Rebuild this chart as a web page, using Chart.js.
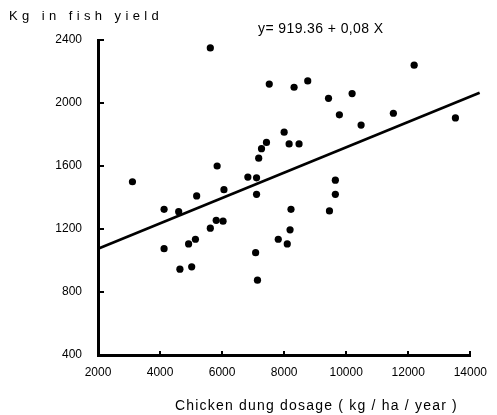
<!DOCTYPE html>
<html>
<head>
<meta charset="utf-8">
<script src="https://cdn.jsdelivr.net/npm/chart.js@4/dist/chart.umd.min.js"></script>
<style>
  html, body { margin: 0; padding: 0; background: #fff; }
  #wrap { position: relative; width: 497px; height: 415px; overflow: hidden; }
  canvas { position: absolute; left: 0; top: 0; }
  .txt { position: absolute; font-family: "Liberation Sans", Arial, sans-serif; color: #000; white-space: nowrap; line-height: 1; }
</style>
</head>
<body>
<div id="wrap">
  <canvas id="c" width="497" height="415"></canvas>
  <div class="txt" id="ytitle" style="left:9px; top:9px; font-size:13px; letter-spacing:4.4px;">Kg in fish yield</div>
  <div class="txt" id="eq" style="left:258px; top:21px; font-size:14px; letter-spacing:0.4px;">y= 919.36 + 0,08 X</div>
  <div class="txt" id="xtitle" style="left:175px; top:398px; font-size:14px; letter-spacing:1.2px;">Chicken dung dosage ( kg / ha / year )</div>
</div>
<script>
// ---- data ----
const xTicks = [2000, 4000, 6000, 8000, 10000, 12000, 14000];
const yTicks = [400, 800, 1200, 1600, 2000, 2400];

// chicken dung dosage (kg/ha/year)
const dosage = [5620, 7520, 8320, 8760, 9430, 10190, 9780, 12190, 11520, 10480,
                13520, 8000, 7430, 8160, 8480, 7270, 7180, 6830, 7110, 7110,
                9650, 9650, 9460, 8220, 8190, 7810, 8100, 3110, 5840, 6060,
                5180, 4130, 4600, 5810, 6030, 5620, 5140, 4920, 4130, 4640,
                5020, 7080, 7140];
// fish yield (kg)
const fishYield = [2350, 2120, 2100, 2140, 2030, 2060, 1925, 2240, 1935, 1860,
                   1905, 1815, 1750, 1740, 1740, 1710, 1650, 1530, 1525, 1420,
                   1510, 1420, 1315, 1325, 1195, 1135, 1105, 1500, 1600, 1450,
                   1410, 1325, 1310, 1255, 1250, 1205, 1135, 1105, 1075, 945,
                   960, 1050, 875];

// regression line end points
const lineX = [2000, 14300];
const lineY = [1075, 2065];

const points = dosage.map((x, i) => ({ x: x, y: fishYield[i] }));
const linePts = lineX.map((x, i) => ({ x: x, y: lineY[i] }));

const innerTicks = {
  id: 'innerTicks',
  afterDraw(chart) {
    const { ctx, chartArea: a, scales: { x, y } } = chart;
    ctx.save();
    ctx.strokeStyle = '#000';
    ctx.lineWidth = 2;
    ctx.beginPath();
    yTicks.forEach(v => {
      if (v === yTicks[0]) return;
      const py = Math.round(y.getPixelForValue(v));
      ctx.moveTo(a.left, py);
      ctx.lineTo(a.left + 6, py);
    });
    xTicks.forEach(v => {
      if (v === xTicks[0]) return;
      const px = Math.round(x.getPixelForValue(v));
      ctx.moveTo(px, a.bottom);
      ctx.lineTo(px, a.bottom - 4);
    });
    ctx.stroke();
    ctx.restore();
  }
};

const tickFont = { family: '"Liberation Sans", Arial, sans-serif', size: 12 };

new Chart(document.getElementById('c'), {
  type: 'scatter',
  data: {
    datasets: [
      {
        type: 'scatter',
        data: points,
        pointRadius: 3.6,
        pointHoverRadius: 3.6,
        backgroundColor: '#000',
        borderWidth: 0
      },
      {
        type: 'line',
        data: linePts,
        showLine: true,
        borderColor: '#000',
        borderWidth: 2.6,
        pointRadius: 0,
        tension: 0,
        fill: false,
        clip: false
      }
    ]
  },
  options: {
    responsive: false,
    animation: false,
    devicePixelRatio: 1,
    layout: { padding: { left: 0, top: 40, right: 20, bottom: 0 } },
    plugins: { legend: { display: false }, tooltip: { enabled: false } },
    scales: {
      x: {
        type: 'linear',
        min: xTicks[0],
        max: xTicks[xTicks.length - 1],
        afterBuildTicks: s => { s.ticks = xTicks.map(v => ({ value: v })); },
        afterFit: s => { s.height = 60; },
        grid: { display: true, drawOnChartArea: false, drawTicks: false },
        border: { display: true, color: '#000', width: 3 },
        ticks: { color: '#000', font: tickFont, padding: 10, maxRotation: 0, autoSkip: false,
                 callback: v => String(v) }
      },
      y: {
        type: 'linear',
        min: yTicks[0],
        max: yTicks[yTicks.length - 1],
        afterBuildTicks: s => { s.ticks = yTicks.map(v => ({ value: v })); },
        afterFit: s => { s.width = 98; },
        grid: { display: true, drawOnChartArea: false, drawTicks: false },
        border: { display: true, color: '#000', width: 3 },
        ticks: { color: '#000', font: tickFont, padding: 16, autoSkip: false,
                 callback: v => String(v) }
      }
    }
  },
  plugins: [innerTicks]
});
</script>
</body>
</html>
